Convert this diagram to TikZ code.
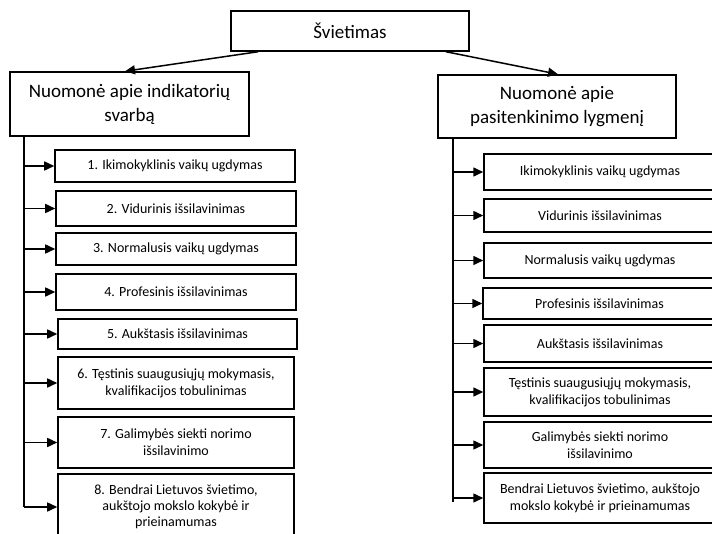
\documentclass[tikz,border=0pt]{standalone}
\usepackage{fontspec}
\setmainfont{Carlito}
\usetikzlibrary{arrows.meta}
\tikzset{
  box/.style={draw=black, line width=1.5bp, rectangle, align=center, inner sep=2bp},
  big/.style={box, font=\fontsize{19bp}{24bp}\selectfont},
  small/.style={box, font=\fontsize{14bp}{17bp}\selectfont},
  arr/.style={draw=black, line width=1.5bp, -{Triangle[length=10bp,width=9bp]}},
  trunk/.style={draw=black, line width=1.5bp}
}
\begin{document}
\begin{tikzpicture}[x=1bp,y=-1bp]
\clip (0,0) rectangle (712,534);
\fill[white] (0,0) rectangle (712,534);
% top
\node[big, minimum width=238bp, minimum height=40bp] (T) at (350,31) {Švietimas};
\node[big, minimum width=239bp, minimum height=64bp] (LH) at (129.5,104) {Nuomonė apie indikatorių\\svarbą};
\node[big, minimum width=238bp, minimum height=63bp] (RH) at (557,106.5) {Nuomonė apie\\pasitenkinimo lygmenį};
\draw[arr] ([xshift=-92bp]T.south) -- ([xshift=-4.5bp]LH.north);
\draw[arr] ([xshift=96bp]T.south) -- ([xshift=1bp]RH.north);
% left column
\node[small, minimum width=240bp, minimum height=32bp] (L1) at (175,166) {1. Ikimokyklinis vaikų ugdymas};
\node[small, minimum width=240bp, minimum height=35bp] (L2) at (176,208.5) {2. Vidurinis išsilavinimas};
\node[small, minimum width=240bp, minimum height=32bp] (L3) at (176,249) {3. Normalusis vaikų ugdymas};
\node[small, minimum width=240bp, minimum height=36bp] (L4) at (176,292) {4. Profesinis išsilavinimas};
\node[small, minimum width=239bp, minimum height=30bp] (L5) at (177.5,334) {5. Aukštasis išsilavinimas};
\node[small, minimum width=236bp, minimum height=52bp] (L6) at (176,383) {6. Tęstinis suaugusiųjų mokymasis,\\kvalifikacijos tobulinimas};
\node[small, minimum width=236bp, minimum height=51bp] (L7) at (176,442.5) {7. Galimybės siekti norimo\\išsilavinimo};
\node[small, minimum width=236bp, minimum height=66bp, font=\fontsize{14bp}{16bp}\selectfont] (L8) at (176,507) {8. Bendrai Lietuvos švietimo,\\aukštojo mokslo kokybė ir\\prieinamumas};
\coordinate (ltop) at (24,136);
\coordinate (lbot) at (24,507);
\draw[trunk] (ltop) -- (lbot);
\foreach \n in {L1,L2,L3,L4,L5,L6,L7,L8}
  \draw[arr] (ltop |- \n.west) -- (\n.west);
% right column
\node[small, minimum width=232bp, minimum height=36bp] (R1) at (600,172) {Ikimokyklinis vaikų ugdymas};
\node[small, minimum width=232bp, minimum height=33bp] (R2) at (600,215.5) {Vidurinis išsilavinimas};
\node[small, minimum width=232bp, minimum height=35bp] (R3) at (600,260.5) {Normalusis vaikų ugdymas};
\node[small, minimum width=233bp, minimum height=31bp] (R4) at (599.5,303.5) {Profesinis išsilavinimas};
\node[small, minimum width=232bp, minimum height=37bp] (R5) at (600,343.5) {Aukštasis išsilavinimas};
\node[small, minimum width=232bp, minimum height=48bp] (R6) at (600,392) {Tęstinis suaugusiųjų mokymasis,\\kvalifikacijos tobulinimas};
\node[small, minimum width=232bp, minimum height=46bp] (R7) at (600,445) {Galimybės siekti norimo\\išsilavinimo};
\node[small, minimum width=232bp, minimum height=50bp] (R8) at (600,498) {Bendrai Lietuvos švietimo, aukštojo\\mokslo kokybė ir prieinamumas};
\coordinate (rtop) at (453,138);
\coordinate (rbot) at (453,502);
\draw[trunk] (rtop) -- (rbot);
\foreach \n in {R1,R2,R3,R4,R5,R6,R7,R8}
  \draw[arr] (rtop |- \n.west) -- (\n.west);
\end{tikzpicture}
\end{document}
